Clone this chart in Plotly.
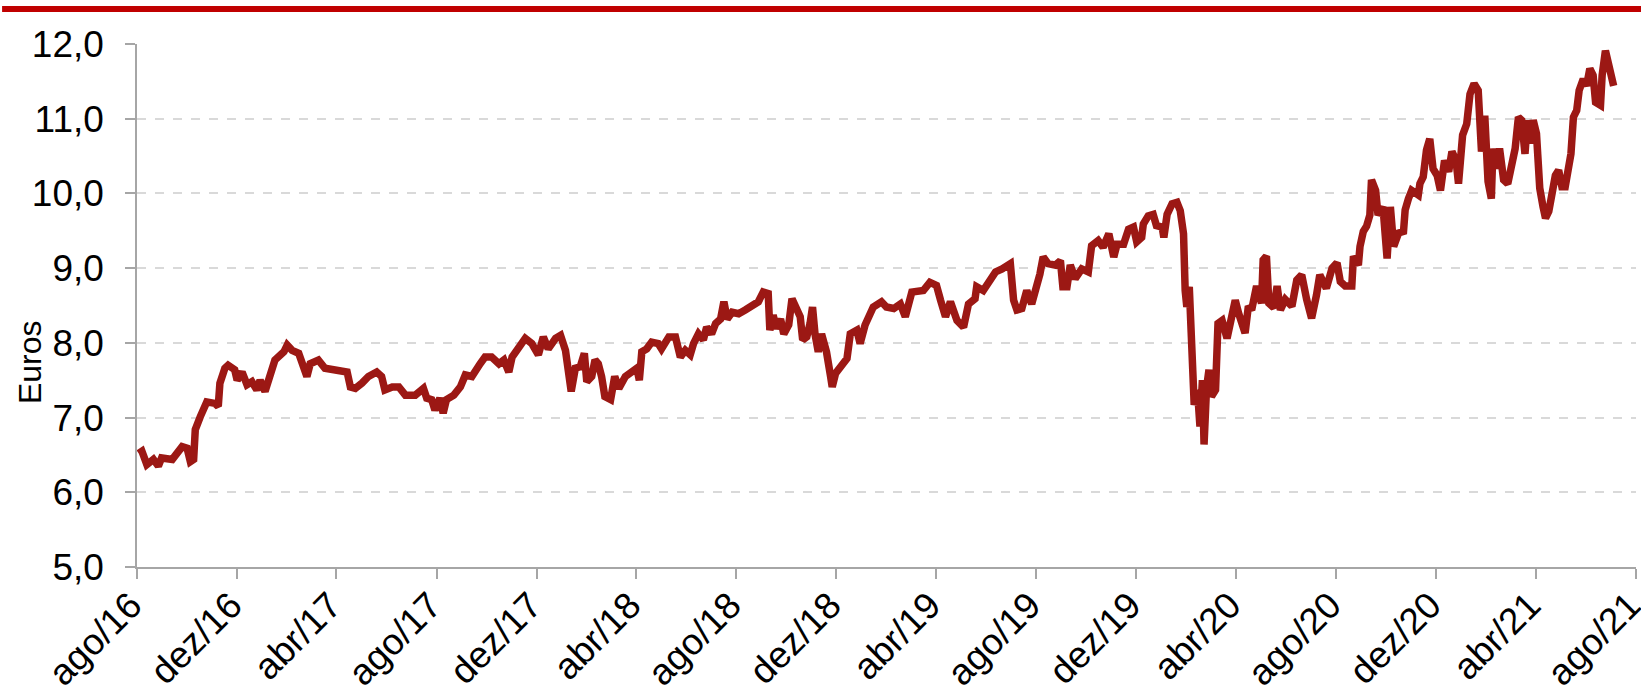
import plotly.graph_objects as go

# Dates and share price (euros)
dates = [
    "2016-08-03","2016-08-07","2016-08-13","2016-08-21","2016-08-27","2016-08-31","2016-09-13","2016-09-25",
    "2016-10-01","2016-10-05","2016-10-09","2016-10-11","2016-10-17","2016-10-25","2016-11-04","2016-11-08",
    "2016-11-10","2016-11-16","2016-11-20","2016-11-28","2016-12-01","2016-12-07","2016-12-13","2016-12-19",
    "2016-12-25","2016-12-29","2017-01-04","2017-01-08","2017-01-16","2017-01-23","2017-01-27","2017-01-31",
    "2017-02-06","2017-02-14","2017-02-18","2017-02-24","2017-02-28","2017-03-10","2017-03-18","2017-04-08",
    "2017-04-14","2017-04-18","2017-04-24","2017-05-02","2017-05-10","2017-05-20","2017-05-26","2017-05-30",
    "2017-06-08","2017-06-16","2017-06-24","2017-07-06","2017-07-16","2017-07-20","2017-07-26","2017-07-30",
    "2017-08-05","2017-08-09","2017-08-13","2017-08-22","2017-08-30","2017-09-05","2017-09-13","2017-09-23",
    "2017-09-29","2017-10-07",
    "2017-10-16","2017-10-22","2017-10-28","2017-11-01","2017-11-07","2017-11-13","2017-11-17","2017-11-25",
    "2017-12-03","2017-12-09","2017-12-15","2017-12-24","2017-12-30","2018-01-05","2018-01-09","2018-01-12",
    "2018-01-17","2018-01-23","2018-01-28","2018-01-31","2018-02-06","2018-02-10","2018-02-14","2018-02-18",
    "2018-02-22","2018-03-01","2018-03-06","2018-03-11","2018-03-19","2018-03-27","2018-04-02","2018-04-05",
    "2018-04-08","2018-04-14","2018-04-20","2018-04-28","2018-05-02","2018-05-11","2018-05-19","2018-05-25",
    "2018-05-31","2018-06-06","2018-06-10","2018-06-16","2018-06-22","2018-06-26","2018-07-02","2018-07-07",
    "2018-07-13","2018-07-17","2018-07-21","2018-07-27","2018-08-04","2018-08-12","2018-08-20","2018-08-28",
    "2018-09-03","2018-09-09","2018-09-11","2018-09-15","2018-09-19","2018-09-24","2018-09-28","2018-10-04",
    "2018-10-08","2018-10-14","2018-10-18","2018-10-21","2018-10-26","2018-10-30","2018-11-02","2018-11-05",
    "2018-11-09","2018-11-13","2018-11-19","2018-11-24","2018-11-26","2018-11-30","2018-12-08","2018-12-14",
    "2018-12-18","2018-12-26","2018-12-30","2019-01-05",
    "2019-01-15","2019-01-25","2019-01-31","2019-02-09","2019-02-17","2019-02-23","2019-03-03","2019-03-11",
    "2019-03-17","2019-03-25","2019-04-02","2019-04-07","2019-04-13","2019-04-19","2019-04-27","2019-05-05",
    "2019-05-11","2019-05-19","2019-05-21","2019-05-29","2019-06-04","2019-06-13","2019-06-21","2019-07-01",
    "2019-07-05","2019-07-09","2019-07-15","2019-07-21","2019-07-27","2019-08-02","2019-08-06","2019-08-10",
    "2019-08-16","2019-08-25","2019-08-31","2019-09-03","2019-09-08","2019-09-12","2019-09-18","2019-09-26",
    "2019-10-04","2019-10-08","2019-10-16","2019-10-22","2019-10-29","2019-11-04","2019-11-08","2019-11-16",
    "2019-11-22","2019-11-28","2019-12-02","2019-12-08","2019-12-10","2019-12-16","2019-12-22","2019-12-26",
    "2020-01-02","2020-01-04","2020-01-08","2020-01-14","2020-01-20","2020-01-24","2020-01-28","2020-01-30",
    "2020-02-01","2020-02-04","2020-02-06","2020-02-08","2020-02-10","2020-02-14","2020-02-17","2020-02-20",
    "2020-02-22","2020-02-25","2020-02-28","2020-03-02","2020-03-07","2020-03-10","2020-03-15","2020-03-21",
    "2020-03-27","2020-03-31",
    "2020-04-04","2020-04-12","2020-04-16","2020-04-20","2020-04-26","2020-05-02","2020-05-04","2020-05-08",
    "2020-05-11","2020-05-17","2020-05-21","2020-05-25","2020-05-31","2020-06-08","2020-06-14","2020-06-20",
    "2020-06-26","2020-07-02","2020-07-08","2020-07-12","2020-07-20","2020-07-27","2020-08-02","2020-08-06",
    "2020-08-12","2020-08-20","2020-08-22","2020-08-28","2020-08-30","2020-09-03","2020-09-07","2020-09-11",
    "2020-09-13","2020-09-18","2020-09-21","2020-09-27","2020-10-02","2020-10-06","2020-10-10","2020-10-16",
    "2020-10-22","2020-10-24","2020-10-28","2020-11-01","2020-11-09","2020-11-11","2020-11-15","2020-11-19",
    "2020-11-23","2020-11-27","2020-12-02","2020-12-06","2020-12-11","2020-12-16","2020-12-20","2020-12-25",
    "2020-12-28","2021-01-02","2021-01-07","2021-01-11","2021-01-16","2021-01-21","2021-01-25","2021-01-29",
    "2021-02-02","2021-02-06","2021-02-08","2021-02-12","2021-02-16","2021-02-21","2021-02-26","2021-03-03",
    "2021-03-07","2021-03-11","2021-03-15","2021-03-19","2021-03-22","2021-03-26","2021-03-29","2021-04-02",
    "2021-04-06","2021-04-10","2021-04-13","2021-04-17","2021-04-21","2021-04-25","2021-04-29","2021-05-03",
    "2021-05-07","2021-05-10","2021-05-14","2021-05-17","2021-05-21","2021-05-24","2021-05-29","2021-06-02",
    "2021-06-06","2021-06-10","2021-06-13","2021-06-19","2021-06-21","2021-06-25","2021-06-29","2021-07-02",
    "2021-07-05",
]

prices = [
    6.52,6.55,6.37,6.44,6.35,6.46,6.44,6.61,
    6.59,6.41,6.44,6.84,7.01,7.21,7.19,7.15,
    7.46,7.66,7.70,7.64,7.50,7.61,7.44,7.48,
    7.37,7.50,7.35,7.50,7.77,7.84,7.88,7.97,
    7.90,7.86,7.72,7.55,7.72,7.77,7.66,7.64,
    7.61,7.41,7.39,7.46,7.55,7.61,7.55,7.37,
    7.41,7.41,7.30,7.30,7.39,7.26,7.24,7.10,
    7.26,7.06,7.24,7.30,7.41,7.57,7.55,7.72,
    7.81,7.81,
    7.72,7.77,7.61,7.81,7.90,8.01,8.06,7.99,
    7.84,8.08,7.92,8.06,8.10,7.90,7.46,7.35,
    7.66,7.68,7.86,7.48,7.55,7.77,7.72,7.55,
    7.28,7.24,7.55,7.39,7.55,7.61,7.66,7.50,
    7.88,7.92,8.01,7.99,7.92,8.08,8.08,7.81,
    7.90,7.84,7.99,8.12,8.04,8.21,8.12,8.26,
    8.32,8.55,8.32,8.41,8.39,8.44,8.50,8.55,
    8.68,8.66,8.17,8.37,8.19,8.32,8.12,8.24,
    8.59,8.46,8.35,8.04,8.08,8.26,8.48,8.12,
    7.88,8.12,7.88,7.55,7.41,7.59,7.72,7.79,
    8.12,8.17,7.99,8.24,
    8.48,8.55,8.48,8.46,8.52,8.35,8.68,8.70,
    8.70,8.81,8.77,8.57,8.35,8.55,8.30,8.21,
    8.52,8.59,8.75,8.70,8.81,8.95,8.99,9.06,
    8.57,8.44,8.46,8.70,8.52,8.75,8.92,9.15,
    9.06,9.04,9.10,8.75,8.75,9.04,8.86,8.99,
    8.95,9.30,9.37,9.28,9.46,9.15,9.32,9.32,
    9.52,9.55,9.35,9.41,9.59,9.70,9.72,9.57,
    9.55,9.41,9.72,9.86,9.88,9.77,9.46,8.70,
    8.48,8.75,8.35,7.81,7.17,7.37,6.88,7.50,
    6.64,7.39,7.64,7.28,7.37,8.26,8.30,8.06,
    8.39,8.57,
    8.40,8.13,8.49,8.44,8.76,8.53,9.11,9.16,
    8.53,8.47,8.76,8.44,8.58,8.49,8.84,8.91,
    8.58,8.33,8.64,8.91,8.73,9.00,9.07,8.82,
    8.76,8.76,9.16,9.04,9.29,9.49,9.56,9.71,
    10.18,10.04,9.71,9.82,9.13,9.82,9.29,9.47,
    9.49,9.78,9.93,10.04,9.98,10.13,10.22,10.58,
    10.73,10.33,10.24,10.04,10.44,10.29,10.56,10.44,
    10.13,10.78,10.93,11.33,11.47,11.38,10.56,11.04,
    10.16,9.93,10.60,10.33,10.60,10.18,10.13,10.42,
    10.60,11.02,10.98,10.53,10.98,10.67,10.98,10.80,
    10.07,9.82,9.67,9.76,10.00,10.24,10.31,10.09,
    10.09,10.36,10.53,11.02,11.11,11.38,11.53,11.44,
    11.67,11.58,11.22,11.18,11.58,11.91,11.67,11.60,
    11.44,
]

tick_dates = ["2016-08-01","2016-12-01","2017-04-01","2017-08-01","2017-12-01","2018-04-01",
              "2018-08-01","2018-12-01","2019-04-01","2019-08-01","2019-12-01","2020-04-01",
              "2020-08-01","2020-12-01","2021-04-01","2021-08-01"]
tick_labels = ["ago/16","dez/16","abr/17","ago/17","dez/17","abr/18","ago/18","dez/18",
               "abr/19","ago/19","dez/19","abr/20","ago/20","dez/20","abr/21","ago/21"]
y_ticks = [5, 6, 7, 8, 9, 10, 11, 12]

FONT = "Liberation Sans"

fig = go.Figure()
fig.add_trace(go.Scatter(
    x=dates, y=prices, mode="lines",
    line=dict(color="#9C1814", width=7.5),
    hoverinfo="x+y", showlegend=False,
))

fig.update_layout(
    width=1641, height=697,
    margin=dict(l=137, r=5, t=44, b=130, autoexpand=False),
    paper_bgcolor="white", plot_bgcolor="white",
    separators=", ",
    font=dict(family=FONT, size=33, color="black"),
    xaxis=dict(
        type="date",
        range=["2016-08-01", "2021-08-01 06:00"],
        tickmode="array", tickvals=tick_dates, ticktext=tick_labels,
        tickangle=-45,
        ticks="outside", ticklen=10, tickwidth=1.5, tickcolor="#A6A6A6",
        showline=True, linecolor="#A6A6A6", linewidth=1.5,
        showgrid=False, zeroline=False,
        automargin=False,
        ticklabeloverflow="allow",
        ticklabelstandoff=-10,
        ticklabelshift=-6,
        tickfont=dict(family=FONT, size=37, color="black"),
    ),
    yaxis=dict(
        range=[5, 12],
        tickmode="array", tickvals=y_ticks, tickformat=".1f",
        ticks="outside", ticklen=10, tickwidth=1.5, tickcolor="#A6A6A6",
        showline=True, linecolor="#A6A6A6", linewidth=1.5,
        showgrid=True, gridcolor="#D9D9D9", gridwidth=1.5, griddash="dash",
        zeroline=False,
        automargin=False,
        ticklabelstandoff=14,
        tickfont=dict(family=FONT, size=37, color="black"),
    ),
    shapes=[dict(
        type="line", xref="paper", yref="paper",
        x0=-0.09, x1=1.004, y0=1.0669, y1=1.0669,
        line=dict(color="#C00000", width=6),
    )],
    annotations=[dict(
        text="Euros", xref="paper", yref="paper",
        x=-0.0713, y=0.392, xanchor="center", yanchor="middle",
        textangle=-90, showarrow=False,
        font=dict(family=FONT, size=32, color="black"),
    )],
)

fig.write_html(
    "out.html",
    config={"displayModeBar": False},
    post_script="document.body.style.margin='0';document.body.style.overflow='hidden';",
)
